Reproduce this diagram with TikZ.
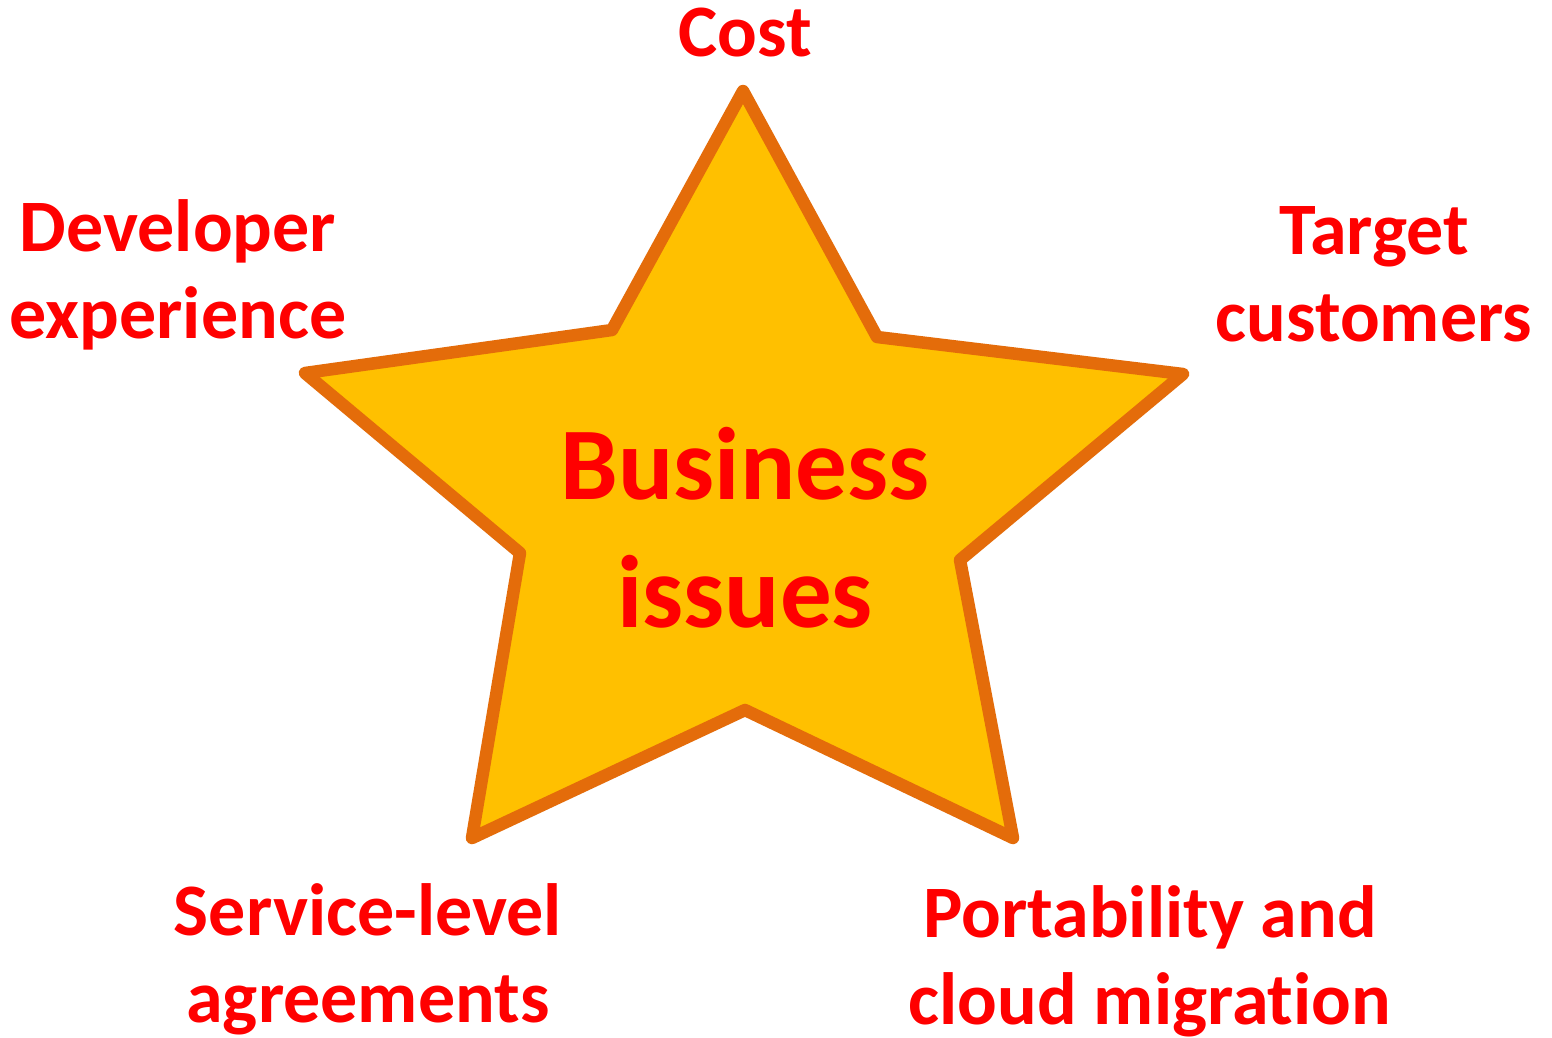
\documentclass[tikz,border=0pt]{standalone}
\usepackage{fontspec}
\setmainfont{Carlito}[RawFeature={-liga}]
\definecolor{starfill}{HTML}{FFC000}
\definecolor{starline}{HTML}{E46C0A}
\definecolor{labred}{HTML}{FF0000}
\begin{document}
\begin{tikzpicture}[x=1pt,y=-1pt,
  lab/.style={text=labred,font=\bfseries\fontsize{74}{87}\selectfont,align=center,inner sep=0pt,anchor=base},
  big/.style={text=labred,font=\bfseries\fontsize{103}{128}\selectfont,align=center,inner sep=0pt,anchor=base},
  starshape/.style={draw=starline,fill=starfill,line width=12.5pt,line join=round}]
\useasboundingbox[fill=white] (0,0) rectangle (1552,1037);
\draw[starshape] (743,91) -- (877,337) -- (1183,374) -- (960,560) -- (1013,838)
  -- (745,710) -- (472,838) -- (520,553) -- (305,373) -- (612,330) -- cycle;
\node[big] (center) at (745,627) {Business\\issues};
\node[lab] (cost) at (745,56) {Cost};
\node[lab] (dev) at (178,338) {Developer\\experience};
\node[lab] (target) at (1374,341) {Target\\customers};
\node[lab] (sla) at (368,1022) {Service-level\\agreements};
\node[lab] (port) at (1150,1024) {Portability and\\cloud migration};
\end{tikzpicture}
\end{document}
